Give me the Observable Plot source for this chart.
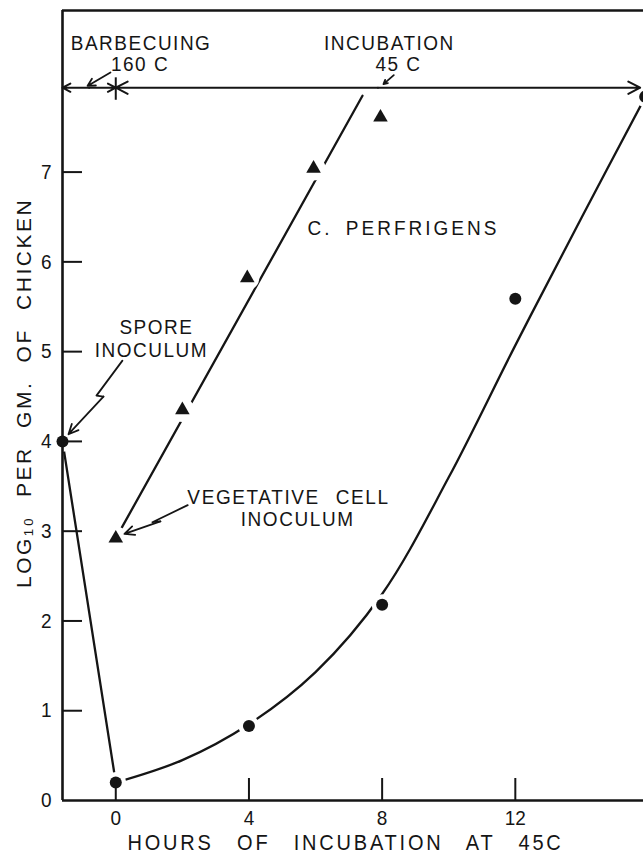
<!DOCTYPE html>
<html>
<head>
<meta charset="utf-8">
<script src="https://cdn.jsdelivr.net/npm/d3@7"></script>
<script src="https://cdn.jsdelivr.net/npm/@observablehq/plot@0.6"></script>
<style>
  html, body { margin: 0; padding: 0; background: #fff; }
  svg text { font-family: 'Liberation Sans', Arial, 'DejaVu Sans', sans-serif; }
  g[aria-description="ann"] text { letter-spacing: 1.5px; }
  g[aria-description="annw"] text { letter-spacing: 1.6px; word-spacing: 9px; }
  g[aria-description="wide"] text { letter-spacing: 3px; word-spacing: 5px; }
  g[aria-description="title"] text { letter-spacing: 2.8px; word-spacing: 15px; }
  g[aria-description="ytitle"] text { letter-spacing: 2.5px; word-spacing: 10px; }
</style>
</head>
<body>
<div id="chart"></div>
<script>
// ---- data (hours of incubation at 45 C, log10 count per gram of chicken) ----
const sporeHours = [-1.6, 0, 4, 8, 12, 15.9];
const sporeLog10 = [4.0, 0.2, 0.83, 2.18, 5.59, 7.84];

const vegHours = [0, 2, 3.95, 5.94, 7.95];
const vegLog10 = [2.92, 4.35, 5.82, 7.04, 7.61];

// hand-drawn fitted lines
const sporeDropHours = [-1.6, 0];
const sporeDropLog10 = [4.0, 0.2];
const sporeCurveHours = [0, 2, 4, 6, 8, 10, 12, 14, 15.85];
const sporeCurveLog10 = [0.2, 0.45, 0.85, 1.43, 2.3, 3.6, 5.07, 6.5, 7.8];
const vegFitHours = [0, 7.41];
const vegFitLog10 = [2.92, 7.85];

// axes
const xDomain = [-1.6, 15.85];
const yDomain = [0, 8.8];
const xTicks = [0, 4, 8, 12];
const yTicks = [0, 1, 2, 3, 4, 5, 6, 7];

// phase bar (barbecuing | incubation)
const phaseBounds = [-1.6, 0, 15.75];
const phaseLevel = 7.94;

// annotation texts
const annMiddleText = ["BARBECUING", "160 C", "INCUBATION", "45 C", "SPORE", "INOCULUM"];
const annMiddleX = [0.76, 0.73, 8.22, 8.49, 1.22, 1.07];
const annMiddleY = [8.44, 8.20, 8.44, 8.20, 5.27, 5.02];
const annStartText = ["VEGETATIVE CELL", "INOCULUM"];
const annStartX = [2.15, 3.75];
const annStartY = [3.38, 3.13];
const speciesText = "C. PERFRIGENS";
const speciesX = 5.76, speciesY = 6.37;

// pointer arrows
const ptrTailX = [-0.16, 8.35];
const ptrTailY = [8.11, 8.08];
const ptrHeadX = [-0.85, 8.04];
const ptrHeadY = [7.96, 7.98];
// zig-zag pointers: [start, bend1, bend2, tip]
const sporeZigX = [0.20, -0.58, -0.37, -1.42];
const sporeZigY = [4.90, 4.51, 4.50, 4.08];
const vegZigX = [2.16, 1.10, 1.34, 0.26];
const vegZigY = [3.29, 3.10, 3.11, 2.97];

// ---- build tables ----
const zip = (xs, ys) => xs.map((x, i) => ({x, y: ys[i]}));
const spore = zip(sporeHours, sporeLog10);
const veg = zip(vegHours, vegLog10);
const sporeDrop = zip(sporeDropHours, sporeDropLog10);
const sporeCurve = zip(sporeCurveHours, sporeCurveLog10);
const vegFit = zip(vegFitHours, vegFitLog10);
const annMiddle = annMiddleText.map((t, i) => ({t, x: annMiddleX[i], y: annMiddleY[i]}));
const annStart = annStartText.map((t, i) => ({t, x: annStartX[i], y: annStartY[i]}));
const phaseArrows = [];
for (let i = 0; i < phaseBounds.length - 1; i++) {
  const a = phaseBounds[i], b = phaseBounds[i + 1], m = (a + b) / 2;
  phaseArrows.push({x1: m, x2: a}, {x1: m, x2: b});
}
const ptrs = ptrTailX.map((x, i) => ({x1: x, y1: ptrTailY[i], x2: ptrHeadX[i], y2: ptrHeadY[i]}));
const zigs = [zip(sporeZigX, sporeZigY), zip(vegZigX, vegZigY)];
const zigLines = zigs.flatMap((pts, k) => pts.slice(0, 3).map(p => ({...p, k})));
const zigArrows = zigs.map(pts => ({x1: pts[2].x, y1: pts[2].y, x2: pts[3].x, y2: pts[3].y}));

const INK = "#151515";

const chart = Plot.plot({
  width: 643,
  height: 857,
  marginLeft: 62,
  marginRight: 0,
  marginTop: 10,
  marginBottom: 57,
  x: {domain: xDomain, axis: null},
  y: {domain: yDomain, axis: null},
  style: {background: "white", overflow: "visible"},
  marks: [
    // fitted lines
    Plot.line(sporeDrop, {x: "x", y: "y", stroke: INK, strokeWidth: 2.3}),
    Plot.line(sporeCurve, {x: "x", y: "y", curve: "catmull-rom", stroke: INK, strokeWidth: 2.3}),
    Plot.line(vegFit, {x: "x", y: "y", stroke: INK, strokeWidth: 2.3}),
    // white halos (line gaps around markers)
    Plot.dot(spore, {x: "x", y: "y", r: 10.5, fill: "white"}),
    Plot.dot(veg, {x: "x", y: "y", r: 12, fill: "white"}),
    // markers
    Plot.dot(spore, {x: "x", y: "y", r: 6, fill: INK}),
    Plot.dot(veg, {x: "x", y: "y", r: 5.4, symbol: "triangle", fill: INK}),
    // frame
    Plot.ruleX([xDomain[0]], {x: d => d, y1: () => yDomain[0], y2: () => yDomain[1], stroke: INK, strokeWidth: 2.6}),
    Plot.ruleY([yDomain[0]], {y: d => d, x1: () => xDomain[0], x2: () => xDomain[1], stroke: INK, strokeWidth: 2.6}),
    Plot.ruleY([yDomain[1]], {y: d => d, x1: () => xDomain[0], x2: () => xDomain[1], stroke: INK, strokeWidth: 2.4}),
    // ticks (inward)
    Plot.ruleX(xTicks, {x: d => d, y1: () => 0, y2: () => 0.245, stroke: INK, strokeWidth: 2}),
    Plot.ruleY(yTicks.filter(v => v > 0), {y: d => d, x1: () => xDomain[0], x2: () => xDomain[0] + 0.6, stroke: INK, strokeWidth: 2}),
    // tick labels
    Plot.text(yTicks, {x: () => xDomain[0], y: d => d, text: d => String(d), textAnchor: "end", dx: -11, fontSize: 19, fill: INK, ariaDescription: "tick"}),
    Plot.text(xTicks, {x: d => d, y: () => 0, text: d => String(d), dy: 18, fontSize: 19, fill: INK, ariaDescription: "tick"}),
    // axis titles
    Plot.text(["HOURS OF INCUBATION AT 45C"], {x: () => 6.9, y: () => -0.475, text: d => d, fontSize: 20, fill: INK, ariaDescription: "title"}),
    Plot.text(["LOG\u2081\u2080 PER GM. OF CHICKEN"], {x: () => -2.76, y: () => 4.54, text: d => d, rotate: -90, fontSize: 21, fill: INK, ariaDescription: "ytitle"}),
    // phase bar
    Plot.arrow(phaseArrows, {x1: "x1", x2: "x2", y1: () => phaseLevel, y2: () => phaseLevel, stroke: INK, strokeWidth: 2, headLength: 10, headAngle: 55}),
    Plot.ruleX([phaseBounds[1]], {x: d => d, y1: () => 7.80, y2: () => 8.05, stroke: INK, strokeWidth: 2}),
    // pointers
    Plot.arrow(ptrs, {x1: "x1", y1: "y1", x2: "x2", y2: "y2", stroke: INK, strokeWidth: 1.8, headLength: 7, headAngle: 55}),
    Plot.line(zigLines, {x: "x", y: "y", z: "k", stroke: INK, strokeWidth: 1.8}),
    Plot.arrow(zigArrows, {x1: "x1", y1: "y1", x2: "x2", y2: "y2", stroke: INK, strokeWidth: 1.8, headLength: 9, headAngle: 50}),
    // annotations
    Plot.text(annMiddle, {x: "x", y: "y", text: "t", fontSize: 19, fill: INK, ariaDescription: "ann"}),
    Plot.text(annStart, {x: "x", y: "y", text: "t", textAnchor: "start", fontSize: 19, fill: INK, ariaDescription: "annw"}),
    Plot.text([speciesText], {x: () => speciesX, y: () => speciesY, text: d => d, textAnchor: "start", fontSize: 19, fill: INK, ariaDescription: "wide"})
  ]
});

// stretch lettering vertically (tall hand-lettered caps), keeping each anchor point fixed
const stretchK = 1.1;
chart.querySelectorAll('g[aria-description="ann"] text, g[aria-description="annw"] text, g[aria-description="wide"] text, g[aria-description="title"] text, g[aria-description="tick"] text')
  .forEach(t => {
    const T = t.getAttribute("transform") || "";
    const x = parseFloat(t.getAttribute("x")), y = parseFloat(t.getAttribute("y"));
    const px = (t.getAttribute("x") || "").endsWith("em") || isNaN(x) ? 0 : x;
    const py = (t.getAttribute("y") || "").endsWith("em") || isNaN(y) ? 0 : y;
    t.setAttribute("transform", `${T} translate(${px},${py}) scale(1,${stretchK}) translate(${-px},${-py})`.trim());
  });

document.getElementById("chart").appendChild(chart);
</script>
</body>
</html>
